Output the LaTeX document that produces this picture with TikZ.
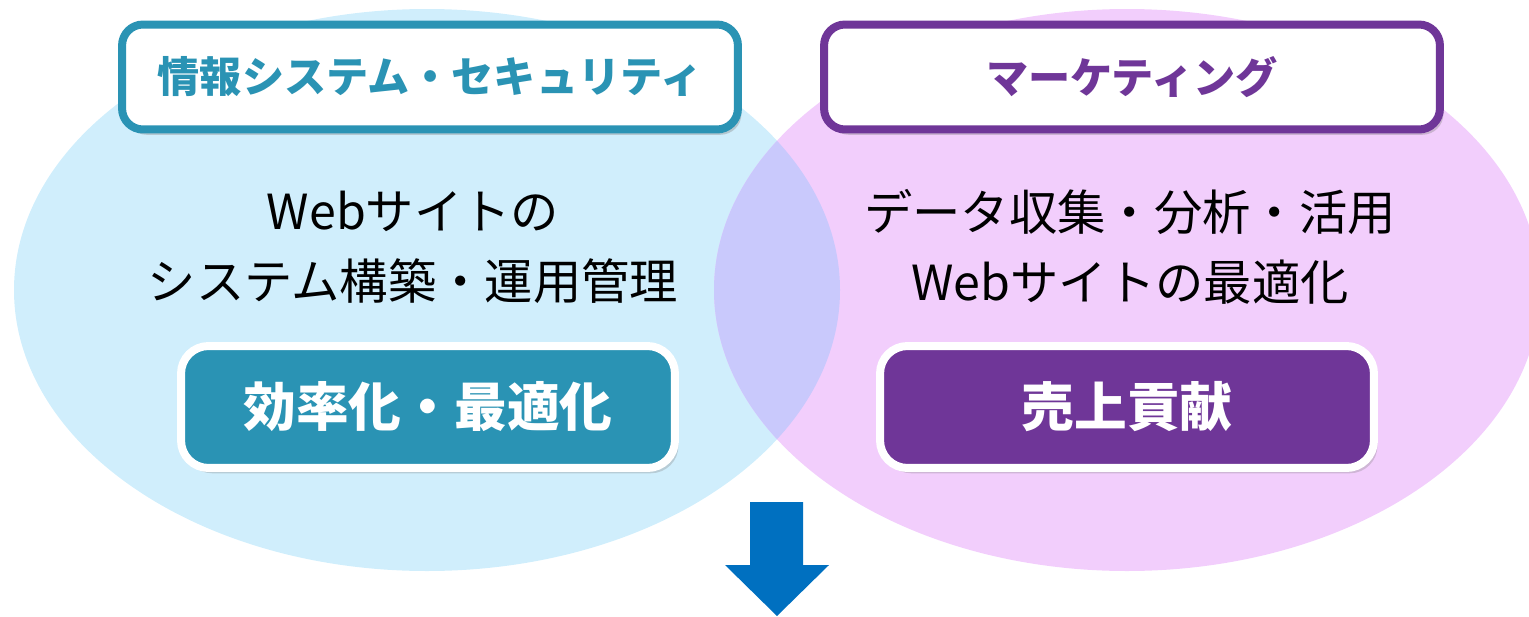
\documentclass[tikz,border=0pt]{standalone}
\usepackage{fontspec}
\setmainfont{Noto Sans CJK JP}
\usetikzlibrary{shadows}
\definecolor{skyfill}{HTML}{D0EEFC}
\definecolor{pinkfill}{HTML}{F2CEFC}
\definecolor{overlap}{HTML}{C9C9FC}
\definecolor{teal}{HTML}{2A93B4}
\definecolor{grape}{HTML}{6F3698}
\definecolor{arrowblue}{HTML}{0070C0}

\tikzset{
  titlebox/.style={draw, fill=white, line width=0.16cm, rounded corners=0.42cm,
    minimum width=12.32cm, minimum height=2.1cm, inner sep=0pt,
    font=\fontsize{24pt}{28pt}\selectfont\bfseries,
    drop shadow={opacity=0.35, shadow xshift=2pt, shadow yshift=-3pt}},
  resultbox/.style={draw=white, line width=0.16cm, rounded corners=0.55cm,
    minimum width=9.88cm, minimum height=2.44cm, inner sep=0pt, text=white,
    font=\fontsize{30pt}{36pt}\selectfont\bfseries,
    drop shadow={opacity=0.3, shadow xshift=2pt, shadow yshift=-3pt}},
  bodytext/.style={align=center, font=\fontsize{27.5pt}{40pt}\selectfont}
}

\begin{document}
\begin{tikzpicture}[x=0.02cm, y=-0.02cm]
\useasboundingbox (0,0) rectangle (1529,616);

% ========== Circles ==========
\fill[skyfill] (427,290) ellipse [x radius=413, y radius=281];
\fill[pinkfill] (1127,290) ellipse [x radius=413, y radius=281];
\begin{scope}
  \clip (427,290) ellipse [x radius=413, y radius=281];
  \fill[overlap] (1127,290) ellipse [x radius=413, y radius=281];
\end{scope}

% ========== Left: information systems ==========
\node[titlebox, draw=teal, text=teal] (itTitle) at (430,77) {情報システム・セキュリティ};
\node[bodytext] (itBody) at (413,247) {Webサイトの\\システム構築・運用管理};
\node[resultbox, fill=teal] (itResult) at (428,407) {効率化・最適化};

% ========== Right: marketing ==========
\node[titlebox, draw=grape, text=grape] (mkTitle) at (1132,77) {マーケティング};
\node[bodytext] (mkBody) at (1130,247) {データ収集・分析・活用\\Webサイトの最適化};
\node[resultbox, fill=grape] (mkResult) at (1127,407) {売上貢献};

% ========== Arrow ==========
\fill[arrowblue] (750,502) -- (803,502) -- (803,565) -- (829,565) -- (777,616)
  -- (725,565) -- (750,565) -- cycle;

\end{tikzpicture}
\end{document}
